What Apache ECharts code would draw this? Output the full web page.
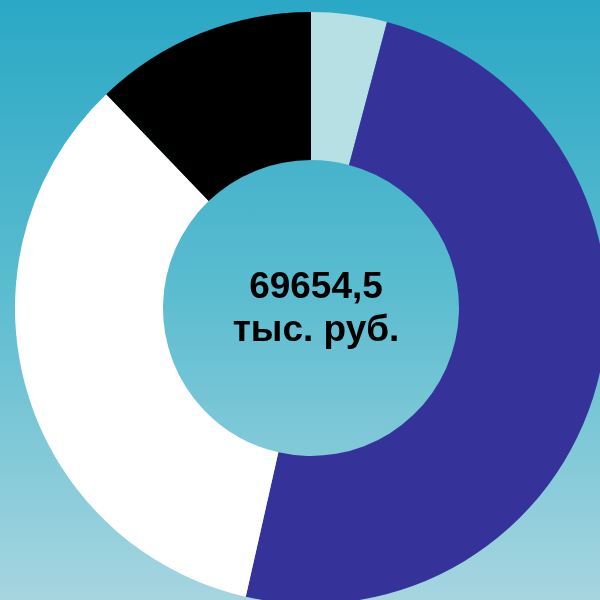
<!DOCTYPE html>
<html>
<head>
<meta charset="utf-8">
<script src="https://cdn.jsdelivr.net/npm/echarts@6/dist/echarts.min.js"></script>
<style>
html,body{margin:0;padding:0;}
#chart{width:600px;height:600px;background:linear-gradient(to bottom,#2aa8c5 0%,#5dbdd0 50%,#a6d5e0 100%);}
</style>
</head>
<body>
<div id="chart"></div>
<script>
const categories = ['Сегмент 1', 'Сегмент 2', 'Сегмент 3', 'Сегмент 4'];
const values = [2877, 34414, 23897, 8467];
const colors = ['#b7e0e5', '#35339a', '#ffffff', '#000000'];
const centerText = '69654,5\nтыс. руб.';

const chart = echarts.init(document.getElementById('chart'));
chart.setOption({
  backgroundColor: 'transparent',
  animation: false,
  series: [{
    type: 'pie',
    center: [311, 308],
    radius: [148, 296],
    startAngle: 90,
    clockwise: true,
    label: { show: false },
    labelLine: { show: false },
    emphasis: { disabled: true },
    itemStyle: { borderWidth: 0 },
    data: categories.map((c, i) => ({ name: c, value: values[i], itemStyle: { color: colors[i] } }))
  }],
  graphic: [{
    type: 'text',
    x: 316,
    y: 309,
    style: {
      text: centerText,
      align: 'center',
      verticalAlign: 'middle',
      font: 'bold 37px "Liberation Sans", Arial, sans-serif',
      lineHeight: 43,
      fill: '#000'
    }
  }]
});
</script>
</body>
</html>
